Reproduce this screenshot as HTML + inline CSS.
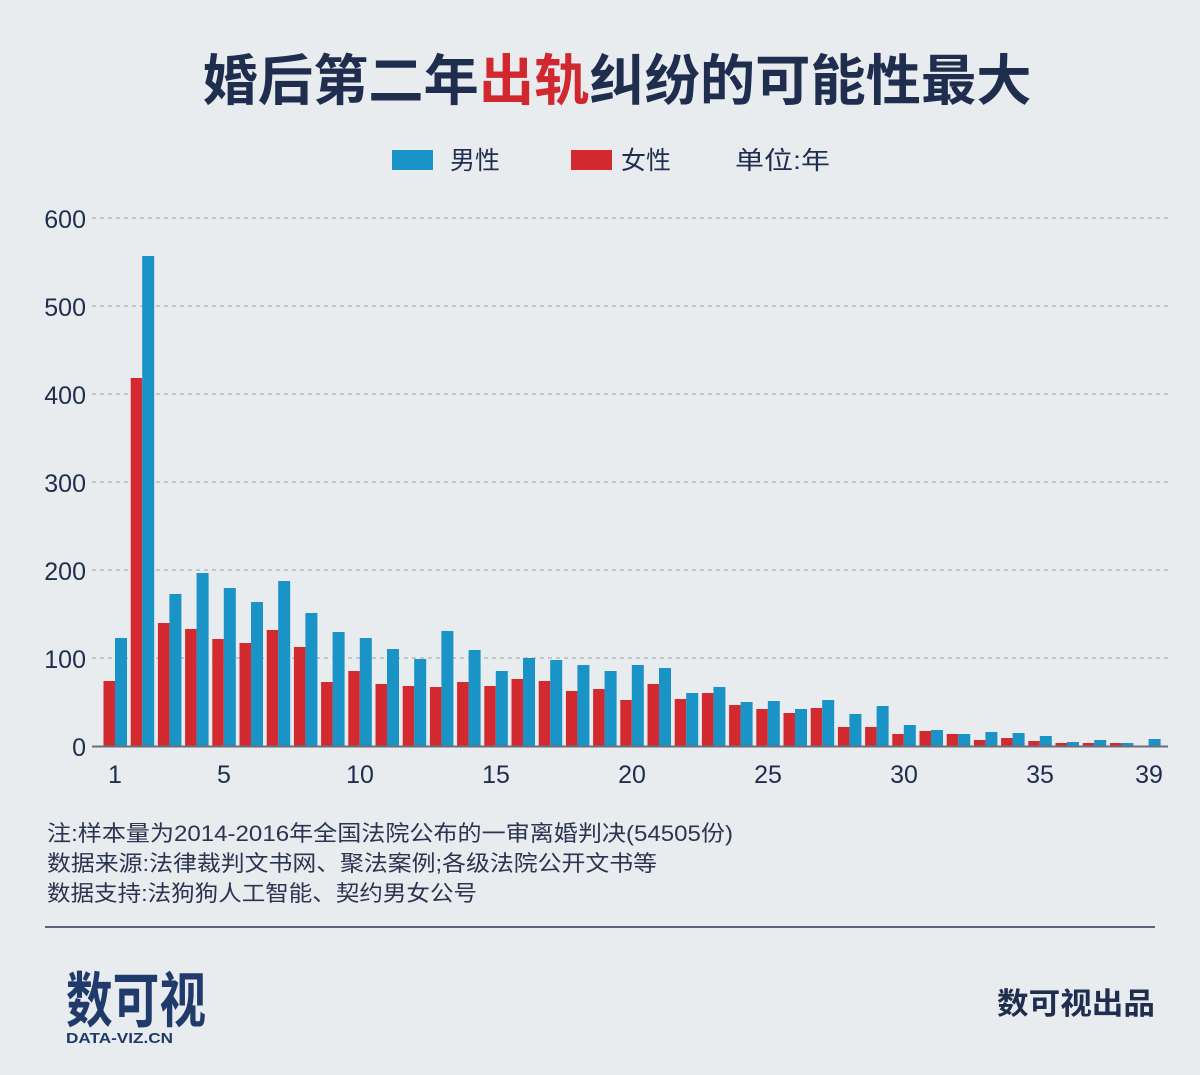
<!DOCTYPE html>
<html><head><meta charset="utf-8"><style>
html,body{margin:0;padding:0;background:#e8ecef;}
svg{display:block;font-family:"Liberation Sans","Noto Sans CJK SC",sans-serif;}
</style></head><body>
<svg width="1200" height="1075" viewBox="0 0 1200 1075">
<rect width="1200" height="1075" fill="#e8ecef"/>
<text x="617" y="100" text-anchor="middle" font-size="55" font-weight="bold" fill="#1f2d4e" textLength="829" lengthAdjust="spacingAndGlyphs">婚后第二年<tspan fill="#d0282e">出轨</tspan>纠纷的可能性最大</text>
<rect x="392" y="150" width="41" height="20" fill="#1a93c6"/>
<text x="450" y="169" font-size="25" fill="#1f2d4e">男性</text>
<rect x="571" y="150" width="41" height="20" fill="#d22a2f"/>
<text x="621" y="169" font-size="25" fill="#1f2d4e">女性</text>
<text x="735" y="169" font-size="25" fill="#1f2d4e" textLength="95" lengthAdjust="spacingAndGlyphs">单位:年</text>
<g stroke="#9aa5a5" stroke-width="1" stroke-dasharray="4,4">
<line x1="92" y1="218" x2="1168" y2="218"/><line x1="92" y1="306" x2="1168" y2="306"/>
<line x1="92" y1="394" x2="1168" y2="394"/><line x1="92" y1="482" x2="1168" y2="482"/>
<line x1="92" y1="570" x2="1168" y2="570"/><line x1="92" y1="658" x2="1168" y2="658"/>
</g>
<g font-size="25" fill="#1f2d4e" text-anchor="end">
<text x="86" y="228">600</text><text x="86" y="316">500</text><text x="86" y="404">400</text>
<text x="86" y="492">300</text><text x="86" y="580">200</text><text x="86" y="668">100</text><text x="86" y="756">0</text>
</g>
<g font-size="25" fill="#1f2d4e" text-anchor="middle">
<text x="115" y="783">1</text><text x="224" y="783">5</text><text x="360" y="783">10</text><text x="496" y="783">15</text>
<text x="632" y="783">20</text><text x="768" y="783">25</text><text x="904" y="783">30</text><text x="1040" y="783">35</text><text x="1149" y="783">39</text>
</g>
<g transform="translate(0,746) scale(1,-1)">
<g fill="#d22a2f">
<rect x="103.5" width="11.5" height="65"/><rect x="130.7" width="11.5" height="368"/><rect x="157.9" width="11.5" height="123"/><rect x="185.1" width="11.5" height="117"/><rect x="212.3" width="11.5" height="107"/><rect x="239.5" width="11.5" height="103"/><rect x="266.7" width="11.5" height="116"/><rect x="293.9" width="11.5" height="99"/><rect x="321.1" width="11.5" height="64"/><rect x="348.3" width="11.5" height="75"/><rect x="375.5" width="11.5" height="62"/><rect x="402.7" width="11.5" height="60"/><rect x="429.9" width="11.5" height="59"/><rect x="457.1" width="11.5" height="64"/><rect x="484.3" width="11.5" height="60"/><rect x="511.5" width="11.5" height="67"/><rect x="538.7" width="11.5" height="65"/><rect x="565.9" width="11.5" height="55"/><rect x="593.1" width="11.5" height="57"/><rect x="620.3" width="11.5" height="46"/><rect x="647.5" width="11.5" height="62"/><rect x="674.7" width="11.5" height="47"/><rect x="701.9" width="11.5" height="53"/><rect x="729.1" width="11.5" height="41"/><rect x="756.3" width="11.5" height="37"/><rect x="783.5" width="11.5" height="33"/><rect x="810.7" width="11.5" height="38"/><rect x="837.9" width="11.5" height="19"/><rect x="865.1" width="11.5" height="19"/><rect x="892.3" width="11.5" height="12"/><rect x="919.5" width="11.5" height="15"/><rect x="946.7" width="11.5" height="12"/><rect x="973.9" width="11.5" height="6"/><rect x="1001.1" width="11.5" height="8"/><rect x="1028.3" width="11.5" height="5"/><rect x="1055.5" width="11.5" height="3"/><rect x="1082.7" width="11.5" height="3"/><rect x="1109.9" width="11.5" height="3"/>
</g>
<g fill="#1a93c6">
<rect x="115" width="12" height="108"/><rect x="142.2" width="12" height="490"/><rect x="169.4" width="12" height="152"/><rect x="196.6" width="12" height="173"/><rect x="223.8" width="12" height="158"/><rect x="251" width="12" height="144"/><rect x="278.2" width="12" height="165"/><rect x="305.4" width="12" height="133"/><rect x="332.6" width="12" height="114"/><rect x="359.8" width="12" height="108"/><rect x="387" width="12" height="97"/><rect x="414.2" width="12" height="87"/><rect x="441.4" width="12" height="115"/><rect x="468.6" width="12" height="96"/><rect x="495.8" width="12" height="75"/><rect x="523" width="12" height="88"/><rect x="550.2" width="12" height="86"/><rect x="577.4" width="12" height="81"/><rect x="604.6" width="12" height="75"/><rect x="631.8" width="12" height="81"/><rect x="659" width="12" height="78"/><rect x="686.2" width="12" height="53"/><rect x="713.4" width="12" height="59"/><rect x="740.6" width="12" height="44"/><rect x="767.8" width="12" height="45"/><rect x="795" width="12" height="37"/><rect x="822.2" width="12" height="46"/><rect x="849.4" width="12" height="32"/><rect x="876.6" width="12" height="40"/><rect x="903.8" width="12" height="21"/><rect x="931" width="12" height="16"/><rect x="958.2" width="12" height="12"/><rect x="985.4" width="12" height="14"/><rect x="1012.6" width="12" height="13"/><rect x="1039.8" width="12" height="10"/><rect x="1067" width="12" height="4"/><rect x="1094.2" width="12" height="6"/><rect x="1121.4" width="12" height="3"/><rect x="1148.6" width="12" height="7"/>
</g>
</g>
<line x1="92" y1="746.5" x2="1168" y2="746.5" stroke="#6b6f78" stroke-width="2"/>
<g font-size="22" fill="#2b3450" lengthAdjust="spacingAndGlyphs">
<text x="47" y="841" textLength="686" lengthAdjust="spacingAndGlyphs">注:样本量为2014-2016年全国法院公布的一审离婚判决(54505份)</text>
<text x="47" y="871" textLength="610" lengthAdjust="spacingAndGlyphs">数据来源:法律裁判文书网、聚法案例;各级法院公开文书等</text>
<text x="47" y="901" textLength="430" lengthAdjust="spacingAndGlyphs">数据支持:法狗狗人工智能、契约男女公号</text>
</g>
<line x1="45" y1="927" x2="1155" y2="927" stroke="#2b3450" stroke-width="1.5"/>
<text x="66" y="1022" font-size="60" font-weight="bold" fill="#1f3a6b" textLength="140" lengthAdjust="spacingAndGlyphs">数可视</text>
<text x="66" y="1043" font-size="15" font-weight="bold" fill="#1f3a6b" textLength="107" lengthAdjust="spacingAndGlyphs">DATA-VIZ.CN</text>
<text x="1155" y="1014" text-anchor="end" font-size="30" font-weight="bold" fill="#1f2d4e" textLength="158" lengthAdjust="spacingAndGlyphs">数可视出品</text>
</svg>
</body></html>
